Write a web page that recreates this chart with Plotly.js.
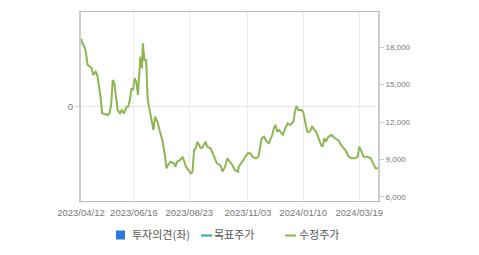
<!DOCTYPE html>
<html>
<head>
<meta charset="utf-8">
<script src="https://cdn.plot.ly/plotly-3.0.1.min.js"></script>
<style>html,body{margin:0;padding:0;background:#fff;}#chart{width:479px;height:255px;}</style>
</head>
<body>
<div id="chart"></div>
<script>
// 수정주가 (adjusted price)
var priceDates = [
  "2023-04-12","2023-04-14","2023-04-17","2023-04-18","2023-04-20","2023-04-23","2023-04-25","2023-04-27","2023-04-30",
  "2023-05-02","2023-05-04","2023-05-06","2023-05-08","2023-05-11","2023-05-15","2023-05-17","2023-05-19","2023-05-21",
  "2023-05-23","2023-05-25","2023-05-27","2023-05-30","2023-06-01","2023-06-04","2023-06-07","2023-06-09","2023-06-11",
  "2023-06-13","2023-06-15","2023-06-17","2023-06-19","2023-06-21","2023-06-23","2023-06-24","2023-06-26","2023-06-27",
  "2023-06-29","2023-07-01","2023-07-03","2023-07-06","2023-07-08","2023-07-10","2023-07-12","2023-07-15","2023-07-18",
  "2023-07-21","2023-07-24","2023-07-26","2023-07-28","2023-07-31","2023-08-04","2023-08-06","2023-08-08","2023-08-12",
  "2023-08-15","2023-08-17","2023-08-19","2023-08-22","2023-08-25","2023-08-27","2023-08-29","2023-08-31","2023-09-02",
  "2023-09-05","2023-09-07","2023-09-09","2023-09-12","2023-09-14","2023-09-18","2023-09-21","2023-09-24","2023-09-26",
  "2023-09-30","2023-10-03","2023-10-06","2023-10-09","2023-10-12","2023-10-15","2023-10-18","2023-10-22","2023-10-23",
  "2023-10-27","2023-10-30","2023-11-03","2023-11-06","2023-11-09","2023-11-13","2023-11-16","2023-11-18","2023-11-20",
  "2023-11-23","2023-11-26","2023-11-29","2023-12-03","2023-12-05","2023-12-07","2023-12-09","2023-12-11","2023-12-13",
  "2023-12-16","2023-12-19","2023-12-22","2023-12-25","2023-12-29","2023-12-31","2024-01-02","2024-01-04","2024-01-08",
  "2024-01-10","2024-01-13","2024-01-15","2024-01-18","2024-01-21","2024-01-24","2024-01-26","2024-01-29","2024-02-01",
  "2024-02-03","2024-02-05","2024-02-07","2024-02-10","2024-02-14","2024-02-18","2024-02-22","2024-02-27","2024-03-02",
  "2024-03-06","2024-03-10","2024-03-14","2024-03-17","2024-03-19","2024-03-22","2024-03-24","2024-03-29","2024-04-02",
  "2024-04-05","2024-04-08","2024-04-11"
];
var priceValues = [
  18700,18300,17900,17600,16600,16450,16330,15770,16040,
  15770,14970,14030,12700,12620,12560,12700,13360,15370,
  15100,14030,12960,12700,12960,12700,13230,13230,13770,
  14700,14570,15510,15240,14170,16040,17240,16310,18320,
  16980,16980,13770,12830,12020,11360,12430,12020,11220,
  10550,9350,8280,8550,8810,8680,8410,8810,8950,
  9210,8810,8410,8140,7880,8010,9750,9890,10420,
  10020,9890,10020,10420,10020,9890,9490,9080,8680,
  8550,8010,8410,9080,8810,8550,8140,8010,8410,
  8810,9080,9490,9490,9210,9080,9210,9890,10690,
  10820,10420,10290,10950,11490,11760,11220,11360,11220,
  10950,11490,11890,11760,12020,12830,13280,12960,12960,
  12830,11890,11220,11220,11620,11360,11220,10690,10150,
  10020,10690,10420,10820,10950,10690,10550,10020,9750,
  9210,9080,9080,9210,10020,9610,9210,9210,9080,
  8680,8280,8280
];
// 투자의견 / 목표주가 — no values shown in the chart
var opinionDates = [null];
var opinionValues = [null];
var targetDates = [null];
var targetValues = [null];

var seriesNames = ["투자의견(좌)", "목표주가", "수정주가"];
var seriesColors = ["#2b7bd6", "#2aa6c4", "#8db652"];

var xTickVals = ["2023-04-12","2023-06-16","2023-08-23","2023-11-03","2024-01-10","2024-03-19"];
var xTickText = ["2023/04/12","2023/06/16","2023/08/23","2023/11/03","2024/01/10","2024/03/19"];
var y2TickVals = [6000, 9000, 12000, 15000, 18000];
var y2TickText = ["6,000","9,000","12,000","15,000","18,000"];

var tickFont = {family: "Liberation Sans, Arial, sans-serif", size: 9.5, color: "#777"};
var legendFont = {family: "Noto Sans CJK KR, sans-serif", size: 11, color: "#555"};

var traces = [
  {type: "bar", name: seriesNames[0], x: opinionDates, y: opinionValues, yaxis: "y",
   marker: {color: seriesColors[0]}, hoverinfo: "skip"},
  {type: "scatter", mode: "lines", name: seriesNames[1], x: targetDates, y: targetValues, yaxis: "y2",
   line: {color: seriesColors[1], width: 2}},
  {type: "scatter", mode: "lines", name: seriesNames[2], x: priceDates, y: priceValues, yaxis: "y2",
   line: {color: seriesColors[2], width: 2}}
];

// compact legend below the plot (pixel offsets from the plot's lower-left corner)
var legendSymbolX = [35, 120, 204];
var legendTextX = [49, 131, 216];
var legendShapes = [
  {type: "rect", xref: "paper", yref: "paper", xsizemode: "pixel", ysizemode: "pixel",
   xanchor: 0, yanchor: 0, x0: legendSymbolX[0], x1: legendSymbolX[0] + 9, y0: -29.5, y1: -38.5,
   fillcolor: seriesColors[0], line: {width: 0}},
  {type: "line", xref: "paper", yref: "paper", xsizemode: "pixel", ysizemode: "pixel",
   xanchor: 0, yanchor: 0, x0: legendSymbolX[1], x1: legendSymbolX[1] + 11, y0: -34.5, y1: -34.5,
   line: {color: seriesColors[1], width: 2}},
  {type: "line", xref: "paper", yref: "paper", xsizemode: "pixel", ysizemode: "pixel",
   xanchor: 0, yanchor: 0, x0: legendSymbolX[2], x1: legendSymbolX[2] + 11, y0: -34.5, y1: -34.5,
   line: {color: seriesColors[2], width: 2}}
];
var legendAnnotations = seriesNames.map(function (name, i) {
  return {xref: "paper", yref: "paper", x: 0, y: 0, xshift: legendTextX[i], yshift: -33,
          xanchor: "left", yanchor: "middle", showarrow: false, text: name, font: legendFont};
});

var layout = {
  width: 479, height: 255,
  margin: {l: 81, r: 101, t: 12, b: 54, pad: 0},
  paper_bgcolor: "#fff", plot_bgcolor: "#fff",
  showlegend: false,
  shapes: legendShapes,
  annotations: legendAnnotations,
  xaxis: {type: "date", range: ["2023-04-12", "2024-04-11"],
          tickvals: xTickVals, ticktext: xTickText, tickfont: tickFont,
          ticklabelstandoff: 3,
          showgrid: true, gridcolor: "#ececec", gridwidth: 1,
          showline: true, linecolor: "#bcbcbc", linewidth: 1, mirror: true,
          ticks: "", zeroline: false, fixedrange: true, automargin: false},
  yaxis: {range: [-1, 1], tickvals: [0], ticktext: ["0"], tickfont: tickFont,
          showgrid: true, gridcolor: "#e6e6e6", zeroline: false,
          showline: true, linecolor: "#cccccc", linewidth: 2,
          ticks: "outside", ticklen: 4, tickcolor: "#cccccc", fixedrange: true, automargin: false},
  yaxis2: {overlaying: "y", side: "right", range: [5655, 20835],
           tickvals: y2TickVals, ticktext: y2TickText,
           tickfont: {family: "Liberation Sans, Arial, sans-serif", size: 8, color: "#777"},
           showgrid: false, zeroline: false,
           showline: true, linecolor: "#cccccc", linewidth: 2,
           ticks: "outside", ticklen: 4, tickcolor: "#cccccc", fixedrange: true, automargin: false}
};

Plotly.newPlot("chart", traces, layout, {displayModeBar: false, staticPlot: true});
</script>
</body>
</html>
